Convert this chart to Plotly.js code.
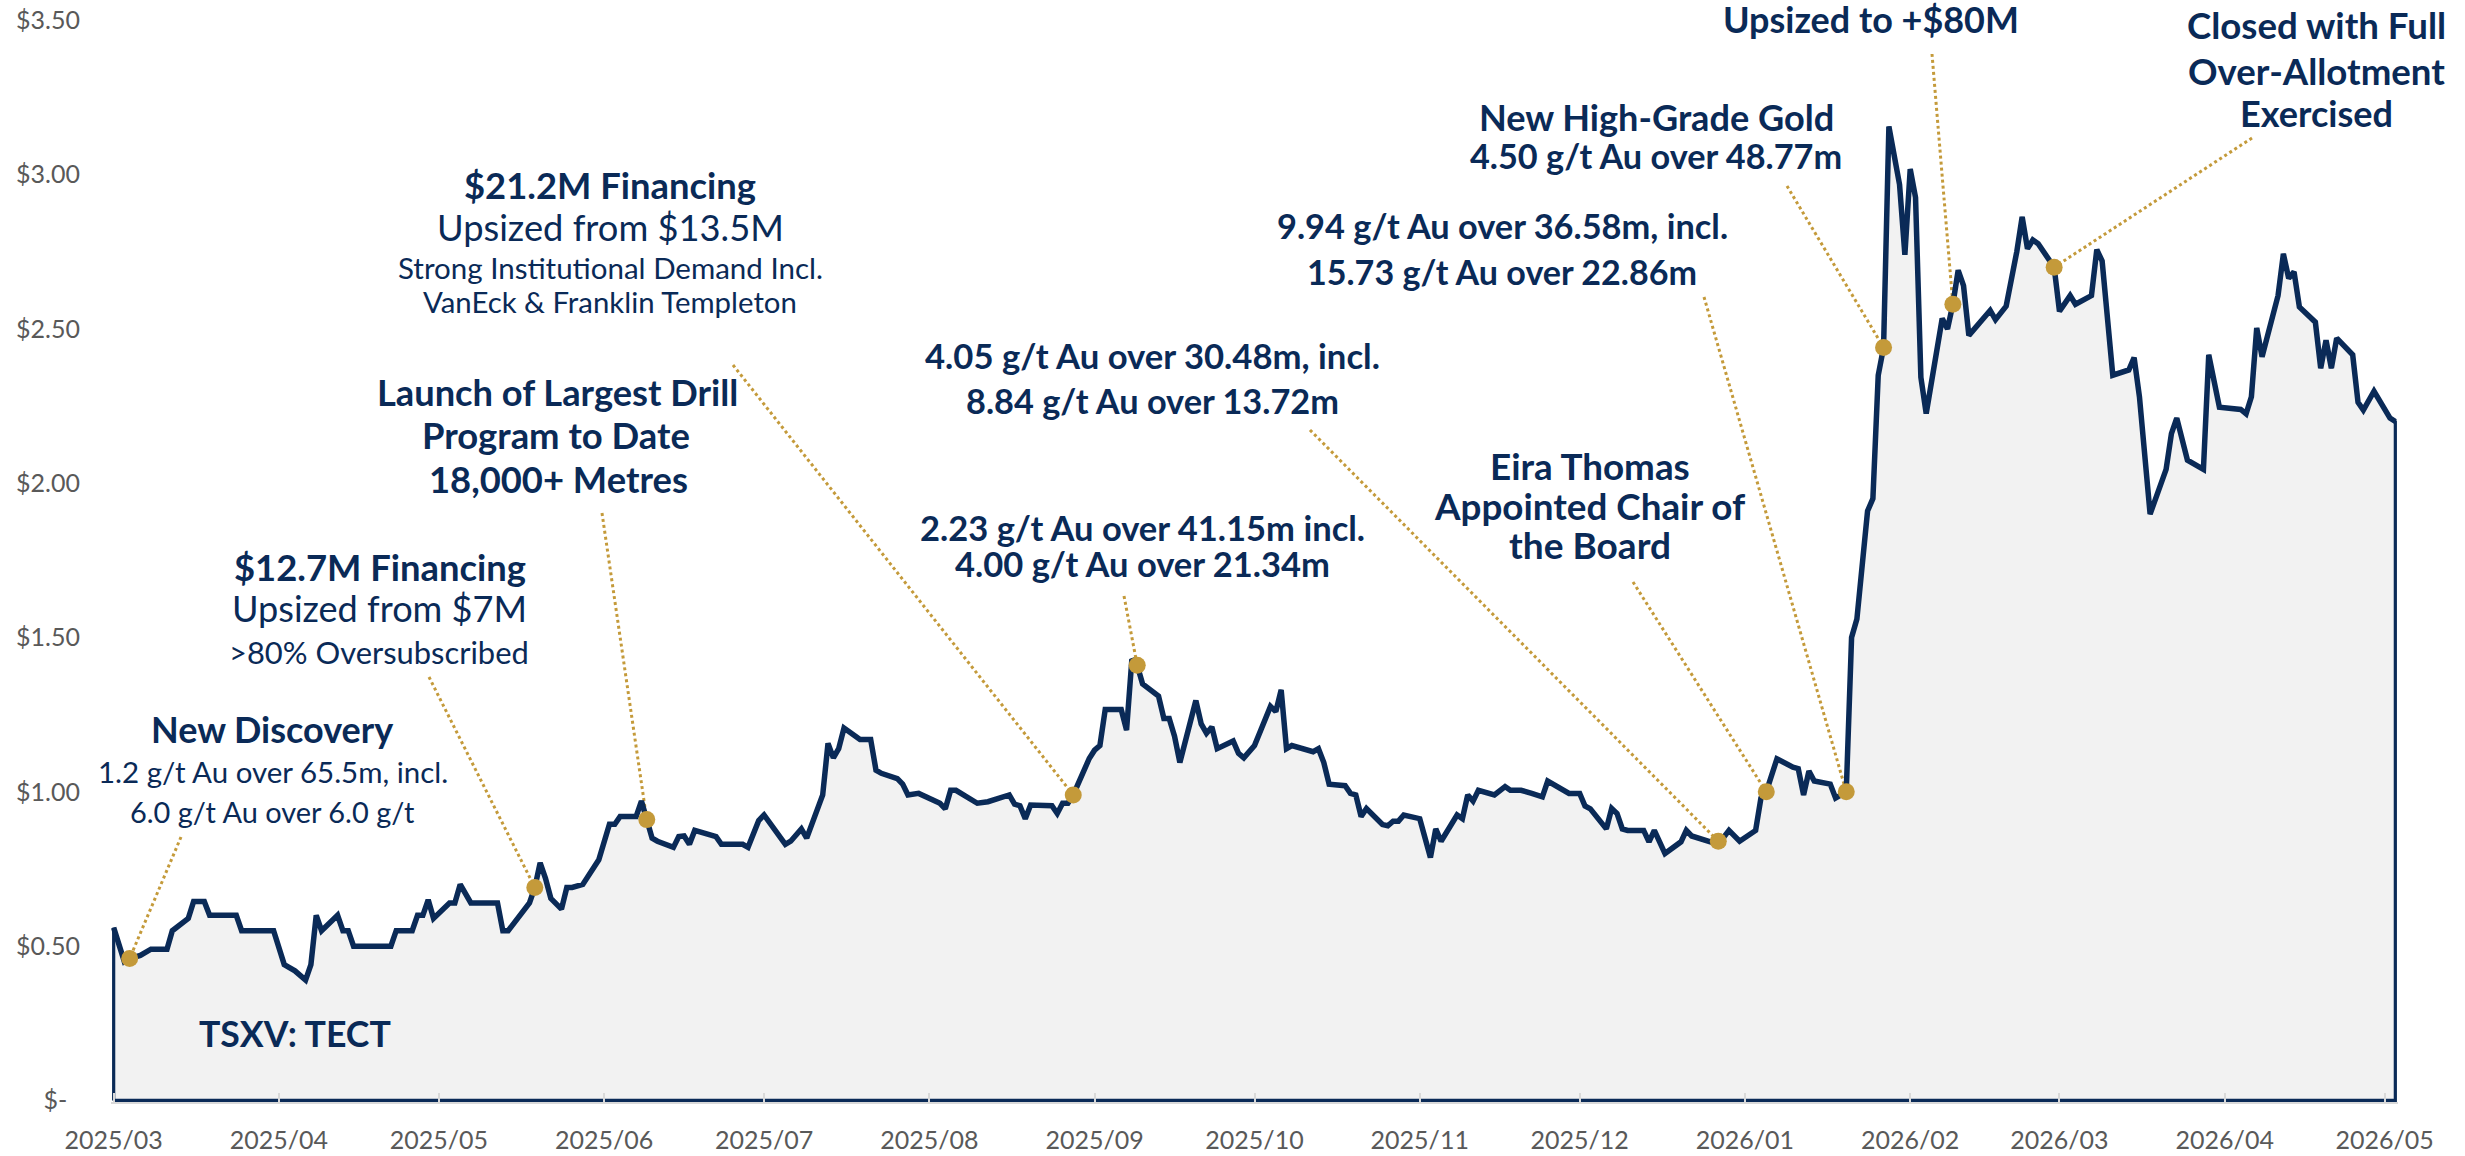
<!DOCTYPE html>
<html>
<head>
<meta charset="utf-8">
<script src="https://cdn.plot.ly/plotly-3.0.1.min.js"></script>
<style>html,body{margin:0;padding:0;background:#fff;}#chart{width:2465px;height:1156px;}</style>
</head>
<body>
<div id="chart"></div>
<script>
// ---------------- DATA ----------------
const dates = [
'2025-03-01','2025-03-02','2025-03-03','2025-03-04','2025-03-06','2025-03-08','2025-03-11','2025-03-12','2025-03-15','2025-03-16',
'2025-03-18','2025-03-19','2025-03-24','2025-03-25','2025-03-31','2025-04-02','2025-04-04','2025-04-06','2025-04-07','2025-04-08',
'2025-04-09','2025-04-12','2025-04-13','2025-04-14','2025-04-15','2025-04-22','2025-04-23','2025-04-26','2025-04-27','2025-04-28',
'2025-04-29','2025-04-30','2025-05-03','2025-05-04','2025-05-05','2025-05-07','2025-05-12','2025-05-13','2025-05-14','2025-05-18',
'2025-05-19','2025-05-20','2025-05-21','2025-05-22','2025-05-24','2025-05-25','2025-05-26','2025-05-28','2025-05-31','2025-06-02',
'2025-06-03','2025-06-04','2025-06-07','2025-06-08','2025-06-09','2025-06-10','2025-06-11','2025-06-14','2025-06-15','2025-06-16',
'2025-06-17','2025-06-18','2025-06-22','2025-06-23','2025-06-27','2025-06-28','2025-06-30','2025-07-01','2025-07-05','2025-07-06',
'2025-07-08','2025-07-09','2025-07-12','2025-07-13','2025-07-14','2025-07-15','2025-07-16','2025-07-19','2025-07-21','2025-07-22',
'2025-07-23','2025-07-26','2025-07-27','2025-07-28','2025-07-30','2025-08-03','2025-08-04','2025-08-05','2025-08-06','2025-08-10',
'2025-08-12','2025-08-16','2025-08-17','2025-08-18','2025-08-19','2025-08-20','2025-08-24','2025-08-25','2025-08-26','2025-08-27',
'2025-08-28','2025-08-31','2025-09-01','2025-09-02','2025-09-03','2025-09-06','2025-09-07','2025-09-08','2025-09-09','2025-09-10',
'2025-09-13','2025-09-14','2025-09-15','2025-09-16','2025-09-17','2025-09-20','2025-09-21','2025-09-22','2025-09-23','2025-09-24',
'2025-09-27','2025-09-28','2025-09-29','2025-10-01','2025-10-04','2025-10-05','2025-10-06','2025-10-07','2025-10-08','2025-10-12',
'2025-10-13','2025-10-14','2025-10-15','2025-10-18','2025-10-19','2025-10-20','2025-10-21','2025-10-22','2025-10-25','2025-10-26',
'2025-10-27','2025-10-28','2025-10-29','2025-11-01','2025-11-03','2025-11-04','2025-11-05','2025-11-08','2025-11-09','2025-11-10',
'2025-11-11','2025-11-12','2025-11-15','2025-11-17','2025-11-18','2025-11-20','2025-11-22','2025-11-24','2025-11-25','2025-11-27',
'2025-11-29','2025-12-01','2025-12-02','2025-12-03','2025-12-06','2025-12-07','2025-12-08','2025-12-09','2025-12-10','2025-12-13',
'2025-12-14','2025-12-15','2025-12-17','2025-12-20','2025-12-21','2025-12-22','2025-12-27','2025-12-29','2025-12-31','2026-01-03',
'2026-01-04','2026-01-05','2026-01-06','2026-01-07','2026-01-10','2026-01-11','2026-01-12','2026-01-13','2026-01-14','2026-01-17',
'2026-01-18','2026-01-20','2026-01-21','2026-01-22','2026-01-24','2026-01-25','2026-01-26','2026-01-27','2026-01-28','2026-01-30',
'2026-01-31','2026-02-01','2026-02-02','2026-02-03','2026-02-04','2026-02-07','2026-02-08','2026-02-09','2026-02-10','2026-02-11',
'2026-02-12','2026-02-16','2026-02-17','2026-02-19','2026-02-21','2026-02-22','2026-02-23','2026-02-24','2026-02-25','2026-02-28',
'2026-03-01','2026-03-02','2026-03-03','2026-03-04','2026-03-07','2026-03-08','2026-03-09','2026-03-11','2026-03-14','2026-03-15',
'2026-03-16','2026-03-18','2026-03-21','2026-03-22','2026-03-23','2026-03-25','2026-03-28','2026-03-29','2026-03-31','2026-04-04',
'2026-04-05','2026-04-06','2026-04-07','2026-04-08','2026-04-11','2026-04-12','2026-04-13','2026-04-14','2026-04-15','2026-04-18',
'2026-04-19','2026-04-20','2026-04-21','2026-04-22','2026-04-25','2026-04-26','2026-04-27','2026-04-29','2026-05-02','2026-05-03'
];
const prices = [
0.56,0.50,0.45,0.46,0.47,0.49,0.49,0.55,0.59,0.645,
0.645,0.60,0.60,0.55,0.55,0.44,0.42,0.39,0.44,0.60,
0.55,0.60,0.55,0.55,0.50,0.50,0.55,0.55,0.60,0.60,
0.65,0.59,0.64,0.64,0.70,0.64,0.64,0.55,0.55,0.64,
0.69,0.77,0.72,0.655,0.62,0.69,0.69,0.70,0.78,0.895,
0.895,0.92,0.92,0.97,0.91,0.85,0.84,0.82,0.855,0.857,
0.83,0.875,0.855,0.83,0.83,0.82,0.907,0.925,0.83,0.84,
0.88,0.85,0.99,1.157,1.11,1.14,1.207,1.17,1.17,1.07,
1.06,1.043,1.025,0.99,0.995,0.963,0.945,1.005,1.005,0.963,
0.968,0.99,0.96,0.955,0.913,0.957,0.955,0.93,0.963,0.963,
0.99,1.108,1.135,1.15,1.267,1.267,1.20,1.43,1.41,1.35,
1.31,1.238,1.238,1.18,1.095,1.296,1.22,1.19,1.21,1.14,
1.165,1.125,1.11,1.15,1.277,1.26,1.33,1.14,1.15,1.13,
1.14,1.095,1.025,1.02,0.995,0.99,0.92,0.946,0.894,0.89,
0.905,0.905,0.925,0.913,0.787,0.88,0.84,0.925,0.913,0.99,
0.97,1.005,0.99,1.017,1.005,1.005,0.995,0.984,1.035,1.017,
0.995,0.995,0.954,0.945,0.88,0.946,0.93,0.88,0.875,0.875,
0.838,0.875,0.80,0.838,0.875,0.857,0.83,0.875,0.84,0.875,
0.98,1.00,1.056,1.107,1.08,1.075,0.99,1.067,1.035,1.025,
0.98,1.00,1.50,1.56,1.91,1.95,2.35,2.44,3.156,2.968,
2.74,3.018,2.926,2.343,2.226,2.534,2.50,2.58,2.69,2.64,
2.479,2.56,2.53,2.574,2.751,2.863,2.76,2.788,2.776,2.70,
2.557,2.58,2.608,2.58,2.608,2.757,2.72,2.35,2.367,2.407,
2.28,1.90,2.045,2.161,2.211,2.075,2.045,2.416,2.246,2.239,
2.225,2.28,2.503,2.41,2.608,2.743,2.664,2.685,2.571,2.522,
2.373,2.463,2.373,2.47,2.416,2.262,2.237,2.298,2.211,2.20
];
const eventDates  = ['2025-03-04','2025-05-19','2025-06-09','2025-08-28','2025-09-09','2025-12-27','2026-01-05','2026-01-20','2026-01-27','2026-02-09','2026-02-28'];
const eventPrices = [0.46, 0.69, 0.91, 0.99, 1.41, 0.84, 1.00, 1.00, 2.44, 2.58, 2.70];
const yTickVals = [0, 0.5, 1.0, 1.5, 2.0, 2.5, 3.0, 3.5];
const yTickText = ['$-\u00a0\u00a0', '$0.50', '$1.00', '$1.50', '$2.00', '$2.50', '$3.00', '$3.50'];
const tickerLabel = 'TSXV: TECT';

// ---------------- LAYOUT / STYLE ----------------
const NAVY = '#0a2a57', GOLD = '#c49a3a', GRAY = '#595959', FONT = 'Lato';
const FIG_W = 2465, FIG_H = 1156;
const M = {l:111, r:67, t:20, b:54};
const L = M.l, W = FIG_W - M.l - M.r, B = FIG_H - M.b, H = FIG_H - M.t - M.b;
const X_RANGE = ['2025-02-28 12:00', '2026-05-03 12:00'];
const Y_RANGE = [-0.005, 3.501];

function toMs(s){ return new Date(s.replace(' ', 'T') + (s.length > 10 ? ':00Z' : 'T00:00:00Z')).getTime(); }
const T0 = toMs(X_RANGE[0]), T1 = toMs(X_RANGE[1]);
function pxToDate(px){ const ms = T0 + (px - L) / W * (T1 - T0); return new Date(ms).toISOString().slice(0,19).replace('T',' '); }
function pyToVal(py){ return Y_RANGE[0] + (B - py) / H * (Y_RANGE[1] - Y_RANGE[0]); }

// label lines: text, bold, centre px, target width px
const labelSpecs = [
 {t:'New Discovery', b:1, x:272, y:729, w:243},
 {t:'1.2 g/t Au over 65.5m, incl.', b:0, x:273, y:771, w:352},
 {t:'6.0 g/t Au over 6.0 g/t', b:0, x:272, y:812, w:286},
 {t:'$12.7M Financing', b:1, x:380, y:567, w:292},
 {t:'Upsized from $7M', b:0, x:379, y:608, w:295},
 {t:'>80% Oversubscribed', b:0, x:379, y:652, w:300},
 {t:'Launch of Largest Drill', b:1, x:557, y:392, w:362},
 {t:'Program to Date', b:1, x:556, y:435, w:268},
 {t:'18,000+ Metres', b:1, x:558, y:479, w:259},
 {t:'$21.2M Financing', b:1, x:610, y:185, w:292},
 {t:'Upsized from $13.5M', b:0, x:610, y:227, w:347},
 {t:'Strong Institutional Demand Incl.', b:0, x:610, y:267, w:425},
 {t:'VanEck & Franklin Templeton', b:0, x:610, y:302, w:375},
 {t:'4.05 g/t Au over 30.48m, incl.', b:1, x:1152, y:355, w:457},
 {t:'8.84 g/t Au over 13.72m', b:1, x:1152, y:400, w:375},
 {t:'2.23 g/t Au over 41.15m incl.', b:1, x:1142, y:527, w:447},
 {t:'4.00 g/t Au over 21.34m', b:1, x:1142, y:563, w:377},
 {t:'9.94 g/t Au over 36.58m, incl.', b:1, x:1502, y:226, w:453},
 {t:'15.73 g/t Au over 22.86m', b:1, x:1502, y:272, w:392},
 {t:'New High-Grade Gold', b:1, x:1656, y:117, w:356},
 {t:'4.50 g/t Au over 48.77m', b:1, x:1656, y:155, w:374},
 {t:'Eira Thomas', b:1, x:1590, y:466, w:201},
 {t:'Appointed Chair of', b:1, x:1590, y:506, w:311},
 {t:'the Board', b:1, x:1590, y:544, w:162},
 {t:'Upsized to +$80M', b:1, x:1871, y:19, w:296},
 {t:'Closed with Full', b:1, x:2316, y:25, w:260},
 {t:'Over-Allotment', b:1, x:2316, y:71, w:257},
 {t:'Exercised', b:1, x:2316, y:113, w:153},
 {t:tickerLabel, b:1, x:295, y:1033, w:193}
];
// leader start points (px), one per event
const leaderStarts = [[181,837],[429,677],[602,513],[733,365],[1124,596],[1310,430],[1633,582],[1704,297],[1787,186],[1932,54],[2252,138]];

const ctx = document.createElement('canvas').getContext('2d');
function fitSize(text, bold, target){
  ctx.font = (bold ? 'bold ' : '') + '100px ' + FONT;
  const w = ctx.measureText(text).width;
  return Math.max(8, 100 * target / w);
}
function esc(s){ return s.replace(/&/g,'&amp;').replace(/</g,'&lt;').replace(/>/g,'&gt;'); }

const annotations = labelSpecs.map(s => ({
  xref:'paper', yref:'paper', x:(s.x - L)/W, y:(B - s.y)/H,
  xanchor:'center', yanchor:'middle', showarrow:false,
  text: esc(s.t),
  font:{family:FONT, size:fitSize(s.t, s.b, s.w), color:NAVY, weight: s.b ? 700 : 400}
}));

const shapes = leaderStarts.map((p, i) => ({
  type:'line', xref:'x', yref:'y', layer:'below',
  x0: pxToDate(p[0]), y0: pyToVal(p[1]),
  x1: eventDates[i], y1: eventPrices[i],
  line:{color:GOLD, width:3, dash:'dot'}
}));

// closed area outline built from the data
const areaX = [dates[0]].concat(dates, [dates[dates.length-1], dates[0]]);
const areaY = [0].concat(prices, [0, 0]);

const traces = [
  {type:'scatter', mode:'lines', x:areaX, y:areaY, fill:'toself', fillcolor:'#f2f2f2',
   line:{color:NAVY, width:3.2}, hoverinfo:'skip', showlegend:false},
  {type:'scatter', mode:'lines', x:dates, y:prices,
   line:{color:NAVY, width:5.5}, hoverinfo:'skip', showlegend:false},
  {type:'scatter', mode:'markers', x:eventDates, y:eventPrices,
   marker:{color:GOLD, size:17}, showlegend:false, cliponaxis:false}
];

const layout = {
  width:FIG_W, height:FIG_H, margin:M,
  paper_bgcolor:'#ffffff', plot_bgcolor:'#ffffff', showlegend:false,
  xaxis:{type:'date', range:X_RANGE, tickformat:'%Y/%m', dtick:'M1', tick0:'2025-03-01',
         ticks:'inside', ticklen:9, tickwidth:2, tickcolor:'#d9d9d9',
         showline:true, linecolor:'#d9d9d9', linewidth:2, showgrid:false, zeroline:false,
         tickfont:{family:FONT, size:25, color:GRAY}, ticklabelstandoff:15, automargin:false, fixedrange:true},
  yaxis:{range:Y_RANGE, tickvals:yTickVals, ticktext:yTickText, showgrid:false, zeroline:false,
         showline:false, ticks:'', tickfont:{family:FONT, size:25, color:GRAY},
         ticklabelstandoff:30, automargin:false, fixedrange:true},
  annotations:annotations, shapes:shapes
};

Plotly.newPlot('chart', traces, layout, {staticPlot:true, displayModeBar:false});
</script>
</body>
</html>
